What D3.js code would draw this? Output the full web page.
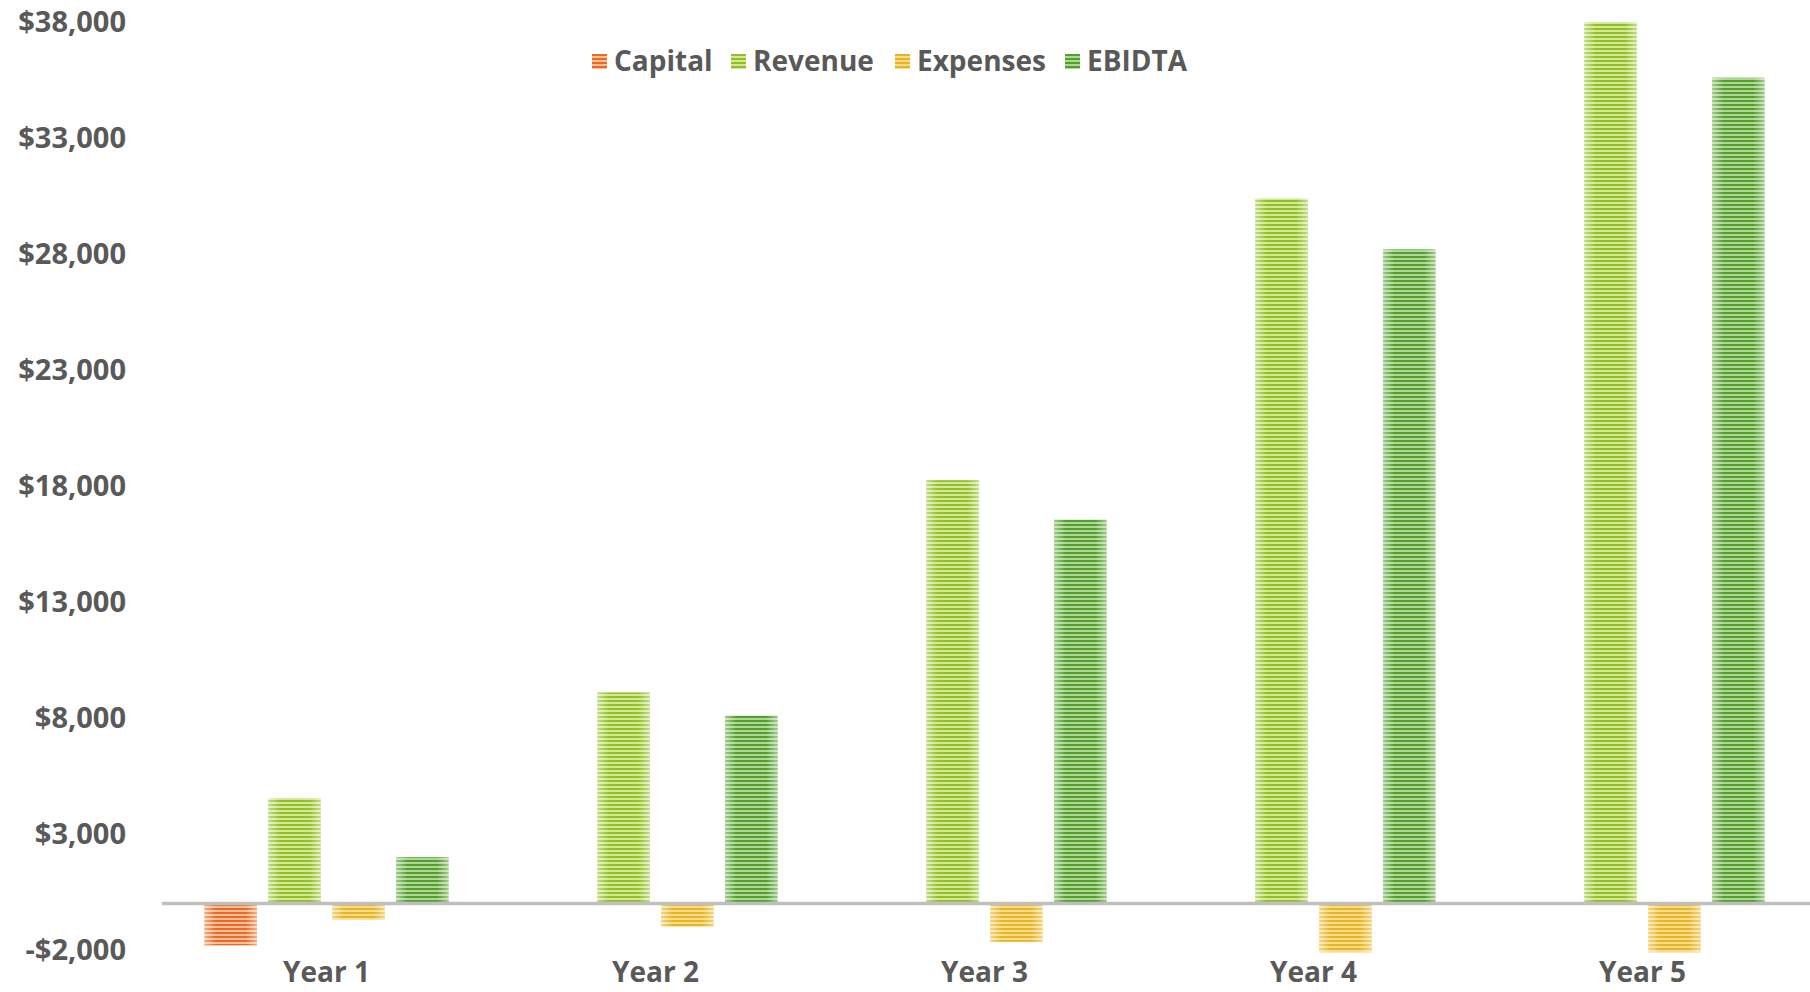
<!DOCTYPE html>
<meta charset="utf-8">
<html>
<script src="https://d3js.org/d3.v7.min.js"></script>
<style>
    body { margin: 0; background: #fff; }
    text { font-family: "Open Sans", sans-serif; font-weight: 700; fill: #595959; }
</style>
<body>
<div id="my_dataviz"></div>
<script>

    // data
    const years = ["Year 1", "Year 2", "Year 3", "Year 4", "Year 5"];
    const seriesNames = ["Capital", "Revenue", "Expenses", "EBIDTA"];
    const capital  = [-1800, 0, 0, 0, 0];
    const revenue  = [4550, 9100, 18250, 30400, 38000];
    const expenses = [-700, -1000, -1650, -2100, -2100];
    const ebidta   = [2000, 8100, 16550, 28200, 35600];
    const yTicks = [-2000, 3000, 8000, 13000, 18000, 23000, 28000, 33000, 38000];

    const colors = ["#EA6A1F", "#92C01F", "#E9B51E", "#52A02A"];
    const lightColors = ["#F6BE9C", "#D3E7A0", "#F5DC92", "#AFD59A"];

    const width = 1810, height = 992;

    const svg = d3.select("#my_dataviz")
      .append("svg")
        .attr("width", width)
        .attr("height", height);

    // striped fills
    const defs = svg.append("defs");
    seriesNames.forEach((s, i) => {
      const p = defs.append("pattern")
        .attr("id", "pat" + i)
        .attr("patternUnits", "userSpaceOnUse")
        .attr("width", 8).attr("height", 4);
      p.append("rect").attr("width", 8).attr("height", 4).attr("fill", lightColors[i]);
      p.append("rect").attr("width", 8).attr("height", 2).attr("fill", colors[i]);
    });
    const grad = defs.append("linearGradient").attr("id", "edge");
    grad.append("stop").attr("offset", "0%").attr("stop-color", "#fff").attr("stop-opacity", 0.45);
    grad.append("stop").attr("offset", "22%").attr("stop-color", "#fff").attr("stop-opacity", 0);
    grad.append("stop").attr("offset", "78%").attr("stop-color", "#fff").attr("stop-opacity", 0);
    grad.append("stop").attr("offset", "100%").attr("stop-color", "#fff").attr("stop-opacity", 0.45);

    // build the table
    const data = years.map((y, i) => ({
      year: y,
      values: [capital[i], revenue[i], expenses[i], ebidta[i]]
    }));

    const x0 = d3.scaleBand()
      .domain(years)
      .range([162, 1807])
      .paddingInner(0.258)
      .paddingOuter(0.129);

    const x1 = d3.scaleBand()
      .domain(seriesNames)
      .range([0, x0.bandwidth()])
      .paddingInner(0.179);

    const y = d3.scaleLinear()
      .domain([-2000, 38000])
      .range([950, 22]);

    // Y axis
    const fmt = d => (d < 0 ? "-" : "") + "$" + d3.format(",")(Math.abs(d));
    svg.append("g")
      .attr("transform", "translate(162,0)")
      .call(d3.axisLeft(y).tickValues(yTicks).tickFormat(fmt).tickSize(0).tickPadding(36))
      .call(g => g.select(".domain").remove())
      .selectAll("text")
        .style("font-size", "29px");

    // bars
    const groups = svg.selectAll("g.year")
      .data(data)
      .join("g")
        .attr("class", "year")
        .attr("transform", d => `translate(${x0(d.year)},0)`);

    const bars = groups.selectAll("g.bar")
      .data(d => d.values.map((v, i) => ({ key: seriesNames[i], i: i, value: v })).filter(b => b.value !== 0))
      .join("g").attr("class", "bar");

    bars.append("rect")
      .attr("x", d => x1(d.key))
      .attr("y", d => y(Math.max(0, d.value)))
      .attr("width", x1.bandwidth())
      .attr("height", d => Math.abs(y(d.value) - y(0)))
      .attr("fill", d => `url(#pat${d.i})`);
    bars.append("rect")
      .attr("x", d => x1(d.key))
      .attr("y", d => y(Math.max(0, d.value)))
      .attr("width", x1.bandwidth())
      .attr("height", d => Math.abs(y(d.value) - y(0)))
      .attr("fill", "url(#edge)");

    // zero line
    svg.append("line")
      .attr("x1", 162).attr("x2", 1810)
      .attr("y1", y(0)).attr("y2", y(0))
      .attr("stroke", "#BFBFBF")
      .attr("stroke-width", 3.5);

    // X axis labels
    svg.append("g")
      .attr("transform", "translate(0,950)")
      .call(d3.axisBottom(x0).tickSize(0).tickPadding(12))
      .call(g => g.select(".domain").remove())
      .selectAll("text")
        .style("font-size", "28px");

    // legend
    const legendX = [592, 731, 895, 1065];
    const legend = svg.selectAll("g.legend")
      .data(seriesNames)
      .join("g")
        .attr("class", "legend")
        .attr("transform", (d, i) => `translate(${legendX[i]},54)`);
    legend.append("rect")
      .attr("width", 15).attr("height", 15)
      .attr("fill", (d, i) => `url(#pat${i})`);
    legend.append("text")
      .attr("x", 22)
      .attr("y", 17)
      .style("font-size", "28px")
      .text(d => d);

</script>
</body>
</html>
